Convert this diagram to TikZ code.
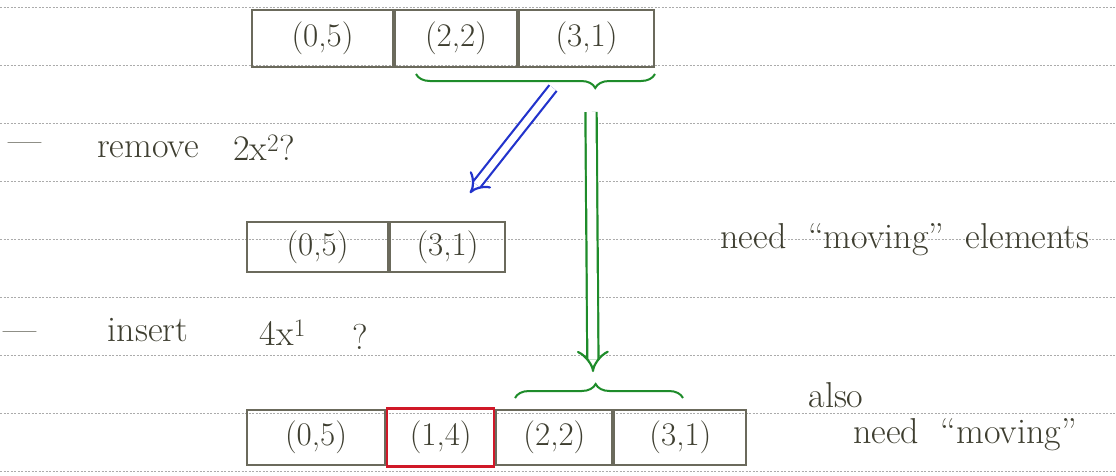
\documentclass[tikz,border=0pt]{standalone}
\usepackage{xcolor}
\usepackage{tikz}
\usetikzlibrary{calc,arrows.meta,decorations.pathreplacing}
\definecolor{ink}{HTML}{3E3E30}
\definecolor{boxink}{HTML}{6B6A5C}
\definecolor{paperrule}{HTML}{ABABAB}
\definecolor{pengreen}{HTML}{1E8C2A}
\definecolor{penblue}{HTML}{2233CC}
\definecolor{penred}{HTML}{D01828}
\tikzset{cell/.style={draw=boxink,line width=2pt,inner sep=0pt,font=\fontsize{33}{36}\selectfont,text=ink},
hand/.style={font=\fontsize{36}{40}\selectfont,text=ink,inner sep=1pt},
brc/.style={draw=pengreen,line width=2pt,decorate},
dbl/.style={double,line width=2.2pt,-{Implies}}}

\begin{document}
\begin{tikzpicture}[x=1pt,y=-1pt]
\useasboundingbox (0,0) rectangle (1116,475);
\fill[white] (0,0) rectangle (1116,475);
\foreach \y in {7,65,...,471} \draw[paperrule,line width=0.6pt,dash pattern=on 2pt off 1.5pt] (0,\y)--(1116,\y);
% top array
\node[cell,minimum width=141,minimum height=57] (a1) at (322.5,38.5) {(0,5)};
\node[cell,minimum width=122,minimum height=57,anchor=west] (a2) at (a1.east) {(2,2)};
\node[cell,minimum width=135,minimum height=57,anchor=west] (a3) at (a2.east) {(3,1)};
% after remove
\node[cell,minimum width=141,minimum height=50] (b1) at (317.5,247) {(0,5)};
\node[cell,minimum width=115,minimum height=50,anchor=west] (b2) at (b1.east) {(3,1)};
% after insert
\node[cell,minimum width=138,minimum height=55] (c1) at (316,437.5) {(0,5)};
\node[cell,draw=penred,line width=2.4pt,minimum width=107,minimum height=58,anchor=west] (c2) at (c1.east) {(1,4)};
\node[cell,minimum width=116,minimum height=55,anchor=west] (c3) at (c2.east) {(2,2)};
\node[cell,minimum width=132,minimum height=55,anchor=west] (c4) at (c3.east) {(3,1)};
\coordinate (ta) at ($(a3.south east)+(0,6)$); \coordinate (tb) at ($(a2.south)+(-40,6)$);
\draw[brc,decoration={brace,amplitude=14,aspect=0.25}] (ta)--(tb);
\coordinate (ua) at (515,398); \coordinate (ub) at (683,398);
\draw[brc,decoration={brace,amplitude=14,aspect=0.48}] (ua)--(ub);
\coordinate (bs) at (553,88); \coordinate (be) at (470,193);
\coordinate (gs) at (591,112); \coordinate (ge) at (593,372);
\draw[dbl,penblue,double distance=7pt] (bs)--(be);
\draw[dbl,pengreen,double distance=9pt] (gs)--(ge);
\node[hand] (r0) at (25,148) {---}; \node[hand] (r1) at (148,150) {remove}; \node[hand] (r2) at (264,148) {2x\textsuperscript{2}?};
\node[hand,anchor=west] (i0) at (2,337) {---}; \node[hand] (i1) at (148,330) {insert}; \node[hand] (i2) at (283,333) {4x\textsuperscript{1}}; \node[hand] (i3) at (360,337) {?};
\node[hand] (n1) at (905,240) {need \ ``moving'' \ elements};
\node[hand] (n2) at (836,395) {also};
\node[hand] (n3) at (965,435) {need \ ``moving''};
\end{tikzpicture}
\end{document}
